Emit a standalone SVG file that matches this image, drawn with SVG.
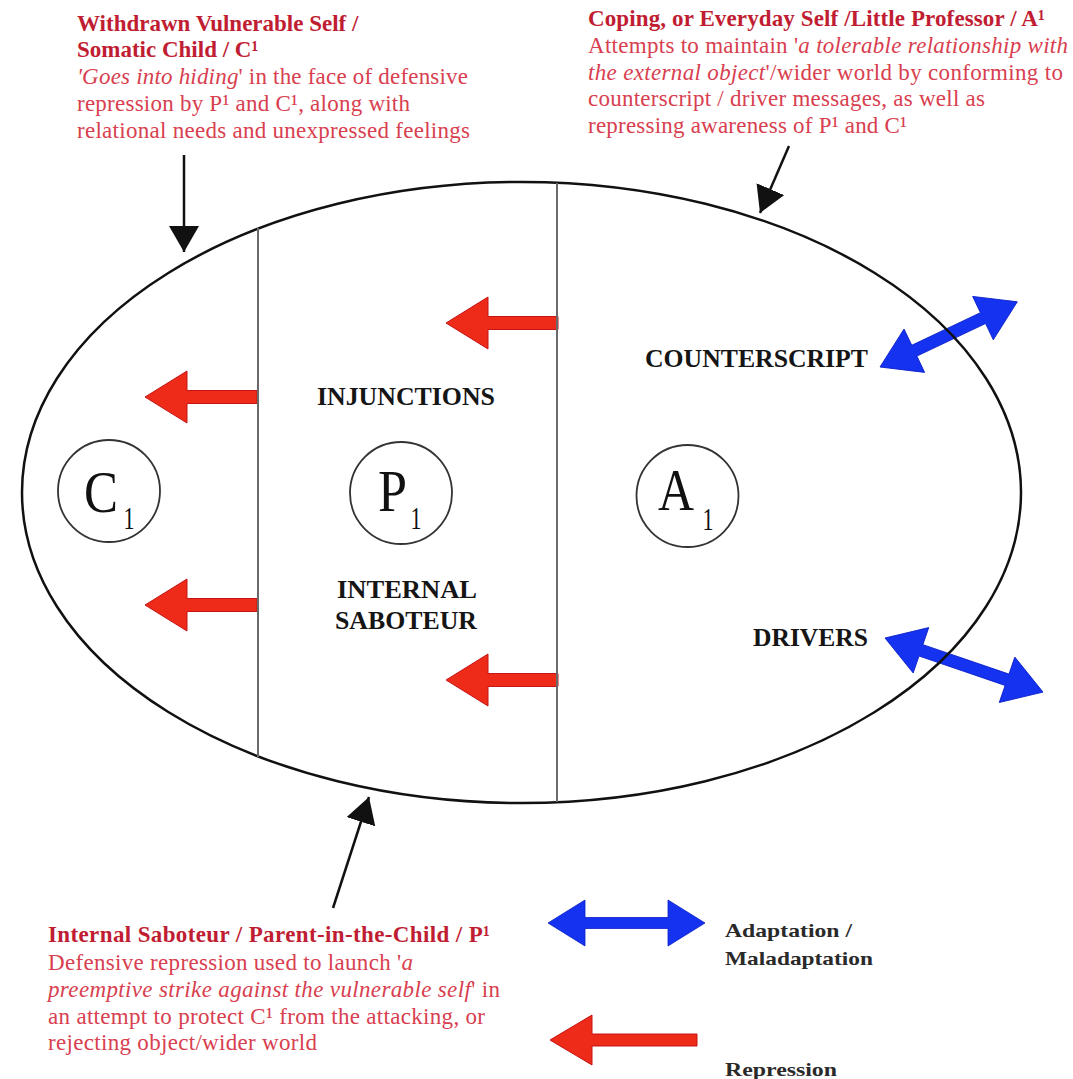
<svg xmlns="http://www.w3.org/2000/svg" width="1073" height="1079" viewBox="0 0 1073 1079">
  <style>
    text { font-family: "Liberation Serif", "Times New Roman", serif; }
    .head { font-size: 23px; font-weight: bold; fill: #c01d33; }
    .body { font-size: 23px; fill: #d8404f; }
    .it { font-style: italic; }
    .lab { font-size: 25px; font-weight: bold; fill: #151515; }
    .big { font-size: 60px; fill: #111; }
    .sub { font-size: 32px; fill: #111; }
    .leg { font-size: 19px; font-weight: bold; fill: #2a2a2a; }
    .outline { fill: none; stroke: #111; stroke-width: 2.5; }
    .divider { stroke: #6a6a6a; stroke-width: 2; }
    .ring { fill: none; stroke: #333; stroke-width: 1.8; }
    .pointer { stroke: #111; stroke-width: 2.5; fill: none; marker-end: url(#tip); }
    .repress { fill: #ee2a18; stroke: #c41616; stroke-width: 1; }
    .adapt { fill: #1432f0; stroke: #0a1ec8; stroke-width: 0.8; }
  </style>
  <defs>
    <marker id="tip" viewBox="0 0 10 10" refX="10" refY="5" markerUnits="userSpaceOnUse"
            markerWidth="26" markerHeight="30" orient="auto" preserveAspectRatio="none">
      <path d="M0,0 L10,5 L0,10 Z" fill="#111"/>
    </marker>
    <!-- left-pointing repression arrow, tip at origin -->
    <path id="rep" d="M0,0 L42,-26 L42,-6.5 L112,-6.5 L112,6.5 L42,6.5 L42,26 Z"/>
  </defs>

  <rect width="1073" height="1079" fill="#fff"/>

  <!-- connectors -->
  <g id="connectors">
    <use href="#rep" class="repress" transform="translate(446,323)"/>
    <use href="#rep" class="repress" transform="translate(145,397)"/>
    <use href="#rep" class="repress" transform="translate(145,605)"/>
    <use href="#rep" class="repress" transform="translate(446,680)"/>

    <polygon class="adapt" transform="translate(880,367) rotate(-25.4)"
             points="0,0 38,-24 38,-6 114,-6 114,-24 152,0 114,24 114,6 38,6 38,24"/>
    <polygon class="adapt" transform="translate(885,638) rotate(18.9)"
             points="0,0 38,-24 38,-6 129,-6 129,-24 167,0 129,24 129,6 38,6 38,24"/>

    <line class="pointer" x1="184" y1="155" x2="184" y2="252"/>
    <line class="pointer" x1="789" y1="146" x2="760" y2="213"/>
    <line class="pointer" x1="333" y1="908" x2="369" y2="797"/>
  </g>

  <!-- the self: ellipse split into three regions -->
  <g id="self">
    <ellipse class="outline" cx="521.5" cy="492.5" rx="499.5" ry="310.5"/>
    <line class="divider" x1="258" y1="228" x2="258" y2="757"/>
    <line class="divider" x1="557" y1="183" x2="557" y2="802"/>
  </g>

  <g id="node-c1">
    <circle class="ring" cx="109" cy="491" r="51"/>
    <text class="big" x="84" y="512" textLength="34" lengthAdjust="spacingAndGlyphs">C</text>
    <text class="sub" x="129" y="529" text-anchor="middle" textLength="11" lengthAdjust="spacingAndGlyphs">1</text>
  </g>
  <g id="node-p1">
    <circle class="ring" cx="401" cy="493" r="51"/>
    <text class="big" x="378" y="511" textLength="29" lengthAdjust="spacingAndGlyphs">P</text>
    <text class="sub" x="416" y="529" text-anchor="middle" textLength="11" lengthAdjust="spacingAndGlyphs">1</text>
  </g>
  <g id="node-a1">
    <circle class="ring" cx="687.5" cy="496" r="51"/>
    <text class="big" x="658" y="510" textLength="36" lengthAdjust="spacingAndGlyphs">A</text>
    <text class="sub" x="708" y="530" text-anchor="middle" textLength="11" lengthAdjust="spacingAndGlyphs">1</text>
  </g>

  <g id="region-labels">
    <text class="lab" x="406" y="405" text-anchor="middle" textLength="178" lengthAdjust="spacingAndGlyphs">INJUNCTIONS</text>
    <text class="lab" x="407" y="598" text-anchor="middle" textLength="140" lengthAdjust="spacingAndGlyphs">INTERNAL</text>
    <text class="lab" x="406" y="629" text-anchor="middle" textLength="142" lengthAdjust="spacingAndGlyphs">SABOTEUR</text>
    <text class="lab" x="645" y="367" textLength="223" lengthAdjust="spacingAndGlyphs">COUNTERSCRIPT</text>
    <text class="lab" x="753" y="646" textLength="115" lengthAdjust="spacingAndGlyphs">DRIVERS</text>
  </g>

  <g id="note-withdrawn-self">
    <text class="head" x="77" y="31">Withdrawn Vulnerable Self /</text>
    <text class="head" x="77" y="57">Somatic Child / C¹</text>
    <text class="body" x="77" y="84" textLength="391"><tspan class="it">'Goes into hiding</tspan>' in the face of defensive</text>
    <text class="body" x="77" y="111" textLength="333">repression by P¹ and C¹, along with</text>
    <text class="body" x="77" y="138" textLength="393">relational needs and unexpressed feelings</text>
  </g>

  <g id="note-coping-self">
    <text class="head" x="588" y="26" textLength="457">Coping, or Everyday Self /Little Professor / A¹</text>
    <text class="body" x="588" y="53" textLength="480">Attempts to maintain '<tspan class="it">a tolerable relationship with</tspan></text>
    <text class="body" x="588" y="80" textLength="475"><tspan class="it">the external object</tspan>'/wider world by conforming to</text>
    <text class="body" x="588" y="106" textLength="397">counterscript / driver messages, as well as</text>
    <text class="body" x="588" y="133" textLength="319">repressing awareness of P¹ and C¹</text>
  </g>

  <g id="note-internal-saboteur">
    <text class="head" x="48" y="942" textLength="442">Internal Saboteur / Parent-in-the-Child / P¹</text>
    <text class="body" x="48" y="970" textLength="365">Defensive repression used to launch '<tspan class="it">a</tspan></text>
    <text class="body" x="48" y="997" textLength="452"><tspan class="it">preemptive strike against the vulnerable self</tspan>' in</text>
    <text class="body" x="48" y="1024" textLength="437">an attempt to protect C¹ from the attacking, or</text>
    <text class="body" x="48" y="1050" textLength="269">rejecting object/wider world</text>
  </g>

  <g id="legend">
    <polygon class="adapt" transform="translate(548,923)"
             points="0,0 37,-23 37,-5.5 120,-5.5 120,-23 157,0 120,23 120,5.5 37,5.5 37,23"/>
    <text class="leg" x="725" y="937" textLength="127" lengthAdjust="spacingAndGlyphs">Adaptation /</text>
    <text class="leg" x="725" y="965" textLength="148" lengthAdjust="spacingAndGlyphs">Maladaptation</text>
    <path class="repress" d="M550,1040 L592,1015 L592,1034 L697,1034 L697,1046 L592,1046 L592,1065 Z"/>
    <text class="leg" x="725" y="1076" textLength="112" lengthAdjust="spacingAndGlyphs">Repression</text>
  </g>
</svg>
